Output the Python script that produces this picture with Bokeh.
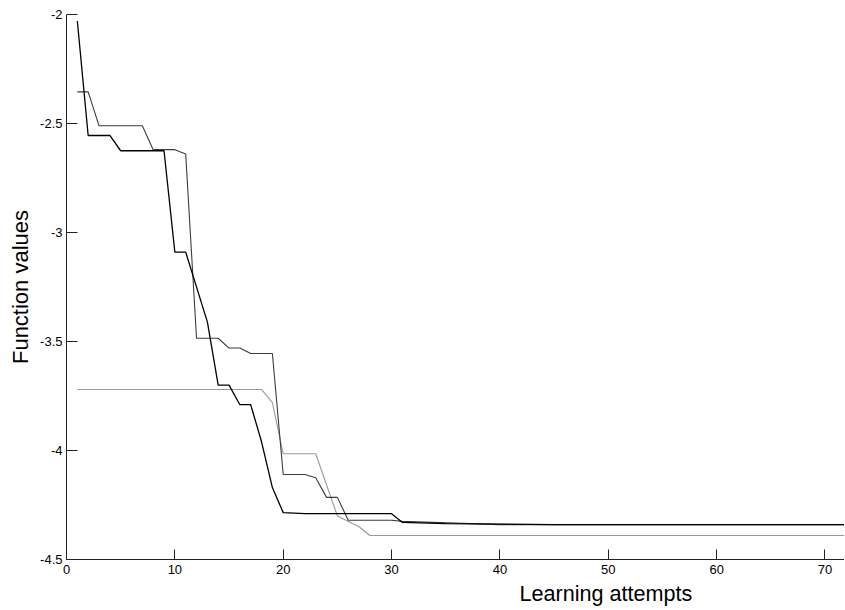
from bokeh.plotting import figure
from bokeh.models import FixedTicker, CustomJSTickFormatter, Title
from bokeh.embed import file_html
from bokeh.resources import INLINE

# --- data (breakpoints) ---
black_x = [1, 2, 4, 5, 9, 10, 11, 13, 14, 15, 16, 17, 18, 19, 20, 22, 30, 31, 35, 45, 72]
black_y = [-2.03, -2.555, -2.555, -2.625, -2.625, -3.09, -3.09, -3.41, -3.70, -3.70,
           -3.79, -3.79, -3.96, -4.17, -4.285, -4.29, -4.29, -4.33, -4.335, -4.34, -4.34]

dark_x = [1, 2, 3, 7, 8, 10, 11, 12, 14, 15, 16, 17, 19, 20, 22, 23, 24, 25, 26, 30, 31, 40, 72]
dark_y = [-2.355, -2.355, -2.51, -2.51, -2.62, -2.62, -2.64, -3.485, -3.485, -3.53, -3.53,
          -3.555, -3.555, -4.11, -4.11, -4.125, -4.215, -4.215, -4.32, -4.32, -4.325, -4.34, -4.34]

light_x = [1, 18, 19, 20, 23, 25, 27, 28, 72]
light_y = [-3.72, -3.72, -3.78, -4.015, -4.015, -4.30, -4.35, -4.39, -4.39]

x_ticks = [0, 10, 20, 30, 40, 50, 60, 70]
y_ticks = [-4.5, -4, -3.5, -3, -2.5, -2]

x_label = "Learning attempts"
y_label = "Function values"

FONT = "Liberation Sans"

p = figure(width=844, height=608, x_range=(0, 71.8), y_range=(-4.5, -2),
           output_backend="svg", toolbar_location=None,
           min_border_left=66, min_border_right=0, min_border_top=14, min_border_bottom=49)

p.xgrid.visible = False
p.ygrid.visible = False
p.outline_line_color = None
p.background_fill_color = "white"
p.border_fill_color = "white"

for ax, ticks in ((p.xaxis[0], x_ticks), (p.yaxis[0], y_ticks)):
    ax.ticker = FixedTicker(ticks=ticks)
    ax.formatter = CustomJSTickFormatter(code="return String(tick)")
    ax.major_tick_out = 0
    ax.minor_tick_in = 0
    ax.minor_tick_out = 0
    ax.axis_line_color = "#222222"
    ax.major_tick_line_color = "#222222"
    ax.major_label_text_font = FONT
    ax.major_label_text_font_size = "13px"
    ax.major_label_text_color = "black"

p.xaxis[0].major_tick_in = 10
p.yaxis[0].major_tick_in = 11
p.xaxis[0].major_label_standoff = 5
p.yaxis[0].major_label_standoff = 4

p.yaxis[0].axis_label = y_label
p.yaxis[0].axis_label_text_font = FONT
p.yaxis[0].axis_label_text_font_size = "22px"
p.yaxis[0].axis_label_text_font_style = "normal"
p.yaxis[0].axis_label_text_color = "black"
p.yaxis[0].axis_label_standoff = 4

p.add_layout(Title(text=x_label, align="left", offset=453, standoff=4,
                   text_font=FONT, text_font_size="21.6px", text_font_style="normal",
                   text_color="black"), "below")

p.line(light_x, light_y, line_color="#9a9a9a", line_width=1.1)
p.line(dark_x, dark_y, line_color="#3c3c3c", line_width=1.1)
p.line(black_x, black_y, line_color="black", line_width=1.3)

open("out.html", "w").write(file_html(p, INLINE))
